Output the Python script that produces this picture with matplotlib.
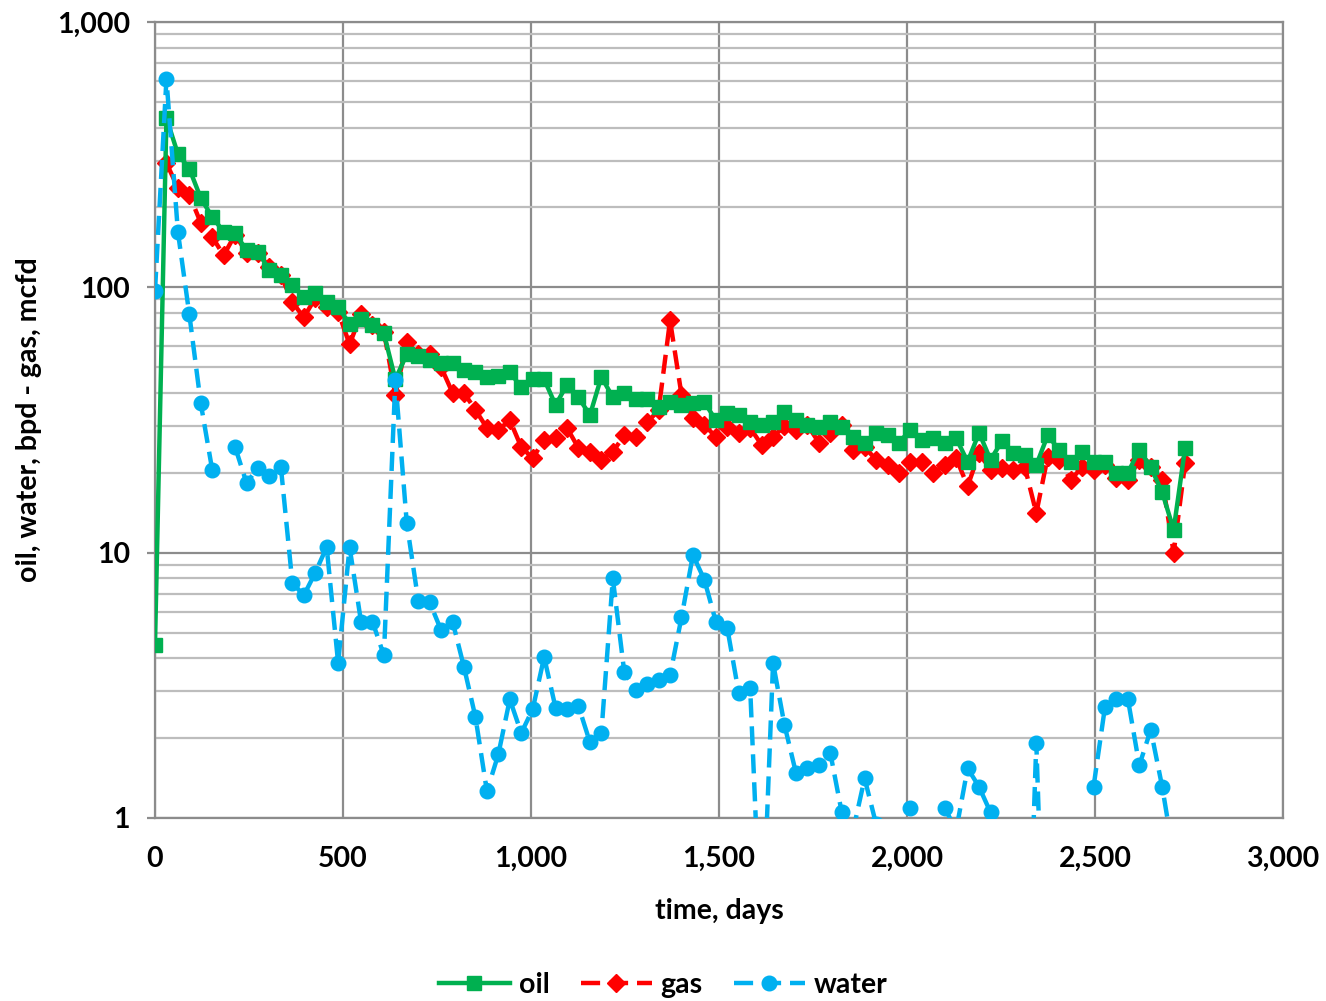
import numpy as np
import matplotlib.pyplot as plt
from matplotlib.ticker import FixedLocator, FuncFormatter, LogLocator, NullFormatter
from matplotlib.lines import Line2D

plt.rcParams['font.family'] = ['Lato', 'DejaVu Sans']
plt.rcParams['font.weight'] = 'bold'

# monthly production, one value per month from day 0
oil = [4.5, 435, 318, 280, 217, 184, 162, 160, 138, 136,
       116, 111, 102, 92, 95, 88, 84, 73, 76, 72,
       67, 45, 56, 55, 53, 52, 52, 49, 48, 46,
       46.5, 48, 42, 45, 45, 36, 43, 38.5, 33, 46,
       38.5, 40, 38, 38, 35.5, 37, 36, 36.5, 37, 31.5,
       33.5, 33, 31, 30.3, 31, 34, 31.6, 30.3, 29.8, 31,
       29.8, 27.3, 26, 28.3, 27.7, 26, 29, 26.6, 27, 26,
       27, 22, 28.3, 22.4, 26.3, 23.7, 23.3, 21.4, 27.7, 24.4,
       22, 24, 22, 22, 20, 20, 24.4, 21, 16.9, 12.2,
       24.8]

gas = [None, 294, 237, 223, 175, 155, 132, 158, 135, 135,
       119, 111, 88, 77, 91, 84, 81, 61, 79, 72,
       68, 39.4, 62, 56, 56, 50, 40, 40, 34.5, 29.5,
       29, 31.6, 25, 22.7, 26.6, 27, 29.5, 24.8, 24, 22.4,
       24, 27.7, 27.3, 31, 34.4, 75, 39.4, 32.3, 30.3, 27.3,
       29.8, 28.3, 29.5, 25.5, 27.3, 30, 29, 30.3, 26, 28.3,
       30.3, 24.4, 25, 22.4, 21.4, 20, 22, 22, 20, 21.4,
       22.7, 17.8, 23.7, 20.5, 20.8, 20.5, 21, 14.1, 23, 22.4,
       18.8, 21, 20.5, 21.4, 19.1, 18.8, 22.4, 21, 18.8, 10,
       21.7]

water = [97, 611, 162, 79, 36.5, 20.5, None, 25, 18.3, 20.9,
         19.5, 21, 7.7, 6.9, 8.4, 10.5, 3.84, 10.5, 5.5, 5.5,
         4.1, 44.8, 12.9, 6.6, 6.5, 5.1, 5.5, 3.7, 2.4, 1.26,
         1.74, 2.8, 2.09, 2.57, 4.04, 2.6, 2.57, 2.64, 1.93, 2.09,
         8.0, 3.55, 3.04, 3.2, 3.3, 3.45, 5.7, 9.8, 7.9, 5.5,
         5.2, 2.96, 3.09, 0.3, 3.84, 2.24, 1.48, 1.54, 1.58, 1.76,
         1.05, 0.9, 1.41, 0.95, None, None, 1.09, None, None, 1.09,
         0.9, 1.54, 1.31, 1.05, 0.7, None, 0.1, 1.92, 0.1, None,
         None, None, 1.31, 2.62, 2.81, 2.81, 1.58, 2.15, 1.31, 0.72,
         None]

days_per_month = 30.44
days = np.arange(len(oil)) * days_per_month

oil = np.array(oil, dtype=float)
gas = np.array(gas, dtype=float)
water = np.array(water, dtype=float)

fig = plt.figure(figsize=(13.26, 10.01), dpi=100)
ax = fig.add_axes([155 / 1326, 1 - 818 / 1001, 1128 / 1326, 796 / 1001])

green = '#00B050'
red = '#FF0000'
blue = '#00B0F0'
fs = 20.5

ax.plot(days, oil, '-', color=green, lw=3.2, marker='s', ms=10.5, mec=green, mfc=green, zorder=4)
ax.plot(days, gas, color=red, lw=3.2, dashes=(4.3, 2), marker='D', ms=9, mec=red, mfc=red, zorder=3)
ax.plot(days, water, color=blue, lw=3.2, dashes=(4.3, 2), marker='o', ms=10.5, mec=blue, mfc=blue, zorder=5)

ax.set_yscale('log')
ax.set_ylim(1, 1000)
ax.set_xlim(0, 3000)

ax.xaxis.set_major_locator(FixedLocator([0, 500, 1000, 1500, 2000, 2500, 3000]))
ax.xaxis.set_major_formatter(FuncFormatter(lambda v, p: f'{int(v):,}'))
ax.yaxis.set_major_locator(LogLocator(base=10, numticks=10))
ax.yaxis.set_major_formatter(FuncFormatter(lambda v, p: f'{int(round(v)):,}'))
ax.yaxis.set_minor_locator(LogLocator(base=10, subs=np.arange(2, 10), numticks=20))
ax.yaxis.set_minor_formatter(NullFormatter())

ax.grid(which='major', axis='both', color='#8c8c8c', lw=1.6)
ax.grid(which='minor', axis='y', color='#bdbdbd', lw=1.6)
ax.set_axisbelow(True)

for s in ax.spines.values():
    s.set_color('#8c8c8c')
    s.set_linewidth(1.6)

ax.tick_params(axis='y', which='major', length=6, width=1.6, color='#8c8c8c', pad=12, labelsize=fs)
ax.tick_params(axis='y', which='minor', length=0)
ax.tick_params(axis='x', which='major', length=0, pad=20, labelsize=fs)

ax.set_xlabel('time, days', fontsize=fs, fontweight='bold')
ax.set_ylabel('oil, water, bpd - gas, mcfd', fontsize=fs, fontweight='bold')
ax.xaxis.set_label_coords(0.5, -0.101)
ax.yaxis.set_label_coords(-0.1, 0.5)

handles = [
    Line2D([], [], color=green, lw=3.2, marker='s', ms=10.5),
    Line2D([], [], color=red, lw=3.2, dashes=(4.3, 2), marker='D', ms=9),
    Line2D([], [], color=blue, lw=3.2, dashes=(4.3, 2), marker='o', ms=10.5),
]
fig.legend(handles, ['oil', 'gas', 'water'], loc='center', bbox_to_anchor=(0.5, 0.016),
           ncol=3, frameon=False, fontsize=fs, handlelength=2.5, columnspacing=1.1,
           handletextpad=0.3)

fig.savefig('out.png', dpi=100)
